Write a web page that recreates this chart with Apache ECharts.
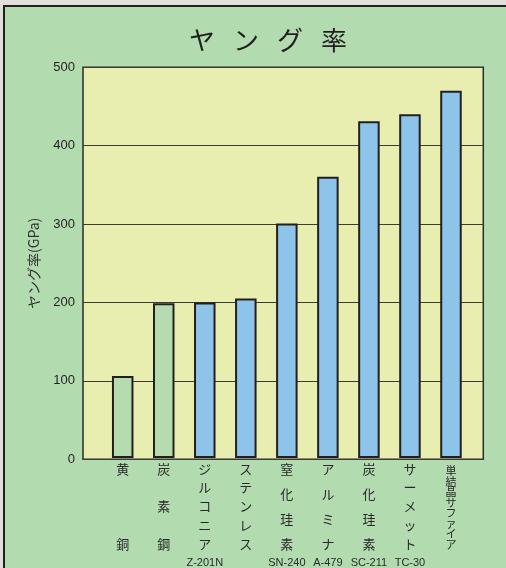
<!DOCTYPE html>
<html><head><meta charset="utf-8">
<script src="https://cdn.jsdelivr.net/npm/echarts@6/dist/echarts.min.js"></script>
<style>html,body{margin:0;padding:0;background:#e2dedc}#c{width:506px;height:568px}</style>
</head><body><div id="c"></div>
<script>
const categories = ['黄銅','炭素鋼','ジルコニア','ステンレス','窒化珪素','アルミナ','炭化珪素','サーメット','単結晶サファイア'];
const gradeLabels = ['','','Z-201N','','SN-240','A-479','SC-211','TC-30',''];
const youngModulus = [105, 198, 199, 204, 300, 360, 431, 440, 470];
const yTicks = [0, 100, 200, 300, 400, 500];
const titleText = 'ヤング率';
const yAxisTitle = 'ヤング率(GPa)';

const chart = echarts.init(document.getElementById('c'), null, {renderer: 'canvas'});
const JP = '"Noto Sans CJK JP", "Noto Sans", sans-serif';

function slotLabel(name, idx) {
  const chars = Array.from(name);
  const n = chars.length;
  if (n > 5) {
    return chars.map(c => '{s|' + c + '}').join('\n');
  }
  const slots = 12;
  const step = slots / (n - 1);
  const lines = [];
  for (let k = 0; k <= slots; k++) lines.push('{e| }');
  chars.forEach((c, i) => { lines[Math.round(i * step)] = '{c|' + c + '}'; });
  if (gradeLabels[idx]) {
    lines.push('{e| }', '{e| }', '{g|' + gradeLabels[idx] + '}');
  }
  return lines.join('\n');
}

const option = {
  backgroundColor: '#e2dedc',
  animation: false,
  graphic: [{
    type: 'rect', z: -100, silent: true,
    shape: {x: 4, y: 6, width: 620, height: 700},
    style: {fill: '#b2dbb0', stroke: '#231f20', lineWidth: 2}
  }],
  title: {
    text: Array.from(titleText).map(c => '{t|' + c + '}').join('{sp|　}'),
    left: 263, top: 22, textAlign: 'center',
    textStyle: {
      rich: {
        t: {fontFamily: JP, fontSize: 26, color: '#231f20', fontWeight: 'normal'},
        sp: {fontFamily: JP, fontSize: 18}
      }
    }
  },
  grid: [
    {left: 83, right: 22.7, top: 67.3, bottom: 108.7, show: true,
     backgroundColor: '#e8eeb0', borderColor: '#2a2a2a', borderWidth: 1.5},
    {left: 102.2, right: 34.5, top: 67.3, bottom: 108.7}
  ],
  xAxis: [
    {gridIndex: 0, type: 'value', show: false, min: 0, max: 1},
    {gridIndex: 1, type: 'category', data: categories,
     axisLine: {show: false}, axisTick: {show: false},
     axisLabel: {
       interval: 0, margin: 7.6, verticalAlign: 'top', lineHeight: 6.25,
       formatter: (v, i) => slotLabel(v, i),
       rich: {
         c: {fontFamily: JP, fontSize: 13, color: '#2a2a2a', lineHeight: 6.25},
         e: {fontSize: 6, lineHeight: 6.25},
         g: {fontFamily: '"Liberation Sans", Arial, sans-serif', fontSize: 11, color: '#2a2a2a', lineHeight: 6.25},
         s: {fontFamily: JP, fontSize: 11, color: '#2a2a2a', lineHeight: 10.5}
       }
     }}
  ],
  yAxis: [
    {gridIndex: 0, type: 'value', min: 0, max: 500, interval: 100,
     name: yAxisTitle, nameLocation: 'middle', nameGap: 42, nameRotate: 90,
     nameTextStyle: {fontFamily: JP, fontSize: 14, color: '#333'},
     axisLine: {show: false}, axisTick: {show: false},
     axisLabel: {margin: 8, fontFamily: '"Liberation Sans", Arial, sans-serif', fontSize: 13, color: '#231f20',
       formatter: v => yTicks.includes(v) ? String(v) : ''},
     splitLine: {show: true, lineStyle: {color: '#3c3c32', width: 1}}},
    {gridIndex: 1, type: 'value', min: 0, max: 500, show: false, splitLine: {show: false}}
  ],
  series: [{
    type: 'bar', xAxisIndex: 1, yAxisIndex: 1,
    data: youngModulus, barWidth: 21.5,
    itemStyle: {
      borderColor: '#231f20', borderWidth: 2,
      color: p => p.dataIndex < 2 ? '#b5dcae' : '#8fc4ea'
    }
  }]
};
chart.setOption(option);
</script>
</body></html>
